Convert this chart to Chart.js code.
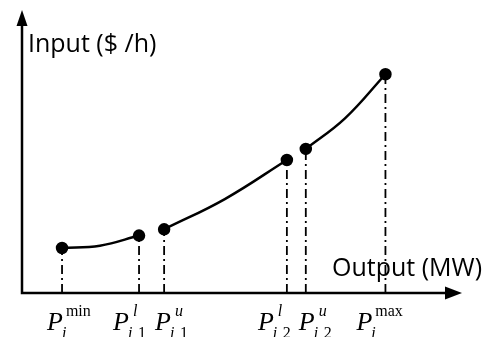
<!DOCTYPE html>
<html>
<head>
<meta charset="utf-8">
<script src="https://cdn.jsdelivr.net/npm/chart.js@4"></script>
<style>
  body { margin: 0; background: #fff; }
  #wrap { width: 489px; height: 337px; }
</style>
</head>
<body>
<div id="wrap"><canvas id="myChart" width="489" height="337"></canvas></div>
<script>
// operating points (output, input) in axis units 0..100
var pointX = [9.1, 26.6, 32.3, 60.2, 64.5, 82.6];
var pointY = [15.9, 20.3, 22.5, 47.0, 50.9, 77.3];
var midX = [17.7, 46.1, 73.4];
var midY = [16.7, 33.2, 61.7];
// tick label parts: P_i(sub)^(sup)
var tickSup = ["min", "l", "u", "l", "u", "max"];
var tickSub = ["", "1", "1", "2", "2", ""];
var yTitle = "Input ($ /h)";
var xTitle = "Output (MW)";

// label nudges (px) relative to the guide line
var labelShift = [-15, -26, -9, -29, -7, -29];

var datasets = [];
for (var s = 0; s < 3; s++) {
  var a = s * 2, b = s * 2 + 1;
  datasets.push({
    data: [{x: pointX[a], y: pointY[a]}, {x: midX[s], y: midY[s]}, {x: pointX[b], y: pointY[b]}],
    borderColor: "#000",
    backgroundColor: "#000",
    borderWidth: 2.5,
    tension: 0.4,
    pointRadius: [5, 0, 5],
    pointHoverRadius: [5, 0, 5],
    order: 0,
    clip: false
  });
}
for (var i = 0; i < pointX.length; i++) {
  datasets.push({
    data: [{x: pointX[i], y: 0}, {x: pointX[i], y: pointY[i]}],
    borderColor: "#000",
    borderWidth: 1.8,
    borderDash: [9, 4, 2, 4],
    pointRadius: 0,
    order: 1,
    clip: false
  });
}

var axesPlugin = {
  id: "axes",
  afterDatasetsDraw(chart) {
    var c = chart.ctx, ca = chart.chartArea;
    c.save();
    c.strokeStyle = "#000";
    c.fillStyle = "#000";
    c.lineWidth = 2.5;
    c.beginPath();
    c.moveTo(ca.left, ca.top + 12);
    c.lineTo(ca.left, ca.bottom);
    c.lineTo(ca.right - 12, ca.bottom);
    c.stroke();
    // arrow heads
    c.beginPath();
    c.moveTo(ca.left, ca.top);
    c.lineTo(ca.left - 5.5, ca.top + 16);
    c.lineTo(ca.left + 5.5, ca.top + 16);
    c.closePath();
    c.fill();
    c.beginPath();
    c.moveTo(ca.right, ca.bottom);
    c.lineTo(ca.right - 17, ca.bottom - 6.5);
    c.lineTo(ca.right - 17, ca.bottom + 6.5);
    c.closePath();
    c.fill();

    // axis titles
    c.font = "25px 'Open Sans'";
    c.textBaseline = "alphabetic";
    c.textAlign = "left";
    c.fillText(yTitle, ca.left + 6, 52);
    c.fillText(xTitle, 332, ca.bottom - 17);

    // tick labels
    var xs = chart.scales.x;
    for (var k = 0; k < pointX.length; k++) {
      var px = xs.getPixelForValue(pointX[k]) + labelShift[k];
      var base = ca.bottom + 37;
      c.font = "italic 26px 'Liberation Serif'";
      c.fillText("P", px, base);
      var pw = c.measureText("P").width;
      var sup = tickSup[k];
      var isWord = sup.length > 1;
      c.font = (isWord ? "" : "italic ") + "16px 'Liberation Serif'";
      c.fillText(sup, px + pw + (isWord ? 3 : 4), base - 14);
      c.font = "italic 16px 'Liberation Serif'";
      c.fillText("i", px + pw - 1, base + 8);
      if (tickSub[k]) {
        c.font = "16px 'Liberation Serif'";
        c.fillText(tickSub[k], px + pw + 9, base + 8);
      }
    }
    c.restore();
  }
};

var ctx = document.getElementById("myChart");
var myChart = new Chart(ctx, {
  type: "line",
  data: { datasets: datasets },
  options: {
    responsive: false,
    animation: false,
    layout: { padding: { left: 22, right: 27, top: 10, bottom: 44 } },
    plugins: { legend: { display: false }, tooltip: { enabled: false } },
    scales: {
      x: { type: "linear", min: 0, max: 100, display: false },
      y: { type: "linear", min: 0, max: 100, display: false }
    }
  },
  plugins: [axesPlugin]
});
</script>
</body>
</html>
